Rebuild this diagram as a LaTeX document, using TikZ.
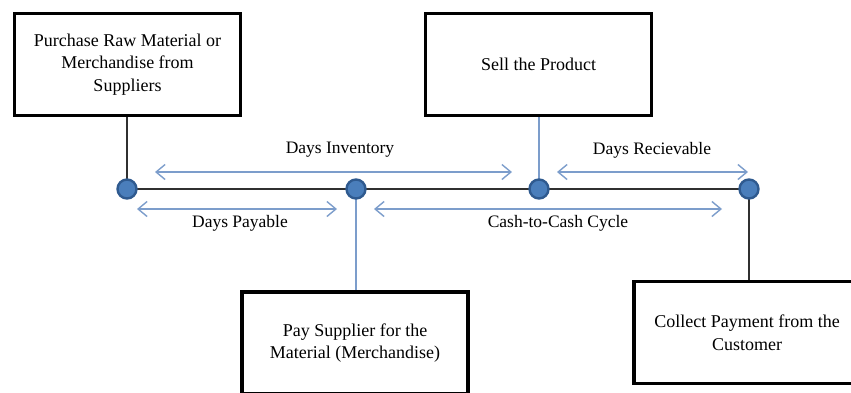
\documentclass[tikz,border=0pt]{standalone}
\usepackage{fontspec}
\setmainfont{Liberation Serif}
\usetikzlibrary{arrows.meta}
\definecolor{dotfill}{HTML}{4A7EBB}
\definecolor{dotline}{HTML}{2F5A8F}
\definecolor{arrowblue}{HTML}{7C9DCB}
\definecolor{darkline}{HTML}{303030}
\tikzset{
  stagebox/.style={draw=black, line width=3.6pt, fill=white, minimum width=226pt, minimum height=102pt, align=center, inner sep=2pt, font=\fontsize{18}{22.5}\selectfont},
  dot/.style={circle, fill=dotfill, draw=dotline, line width=2.4pt, minimum size=19pt, inner sep=0pt},
  spanarrow/.style={draw=arrowblue, line width=1.4pt, {Straight Barb[length=9pt,width=15pt]}-{Straight Barb[length=9pt,width=15pt]}},
  spanlabel/.style={font=\fontsize{17.5}{22}\selectfont, inner sep=0pt},
  darkstem/.style={draw=darkline, line width=1.6pt},
  bluestem/.style={draw=arrowblue, line width=1.6pt},
}
\begin{document}
\begin{tikzpicture}[x=1pt,y=-1pt]
\useasboundingbox (0,0) rectangle (851,392);
\clip (0,0) rectangle (851,392);
% boxes
\node[stagebox] (buy) at (127.5,64.5) {Purchase Raw Material or\\Merchandise from\\Suppliers};
\node[stagebox] (sell) at (538.5,64.5) {Sell the Product};
\node[stagebox] (pay) at (355,343) {Pay Supplier for the\\Material (Merchandise)};
\node[stagebox] (collect) at (747,332.5) {Collect Payment from the\\Customer};
% timeline points
\coordinate (p1) at (127,189);
\coordinate (p2) at (356,189);
\coordinate (p3) at (539,189);
\coordinate (p4) at (749,189);
\draw[darkline, line width=2pt] (p1) -- (p4);
\draw[darkstem] (p1) -- (p1 |- buy.south);
\draw[bluestem] (p3) -- (p3 |- sell.south);
\draw[bluestem] (p2) -- (p2 |- pay.north);
\draw[darkstem] (p4) -- (p4 |- collect.north);
\node[dot] (d1) at (p1) {};
\node[dot] (d2) at (p2) {};
\node[dot] (d3) at (p3) {};
\node[dot] (d4) at (p4) {};
% span arrows
\coordinate (inva) at (155,172);
\coordinate (invb) at (512,172);
\coordinate (reca) at (557,172);
\coordinate (recb) at (748,172);
\coordinate (paya) at (137,209);
\coordinate (payb) at (337,209);
\coordinate (ccca) at (374,209);
\coordinate (cccb) at (722,209);
\draw[spanarrow] (inva) -- (invb);
\draw[spanarrow] (reca) -- (recb);
\draw[spanarrow] (paya) -- (payb);
\draw[spanarrow] (ccca) -- (cccb);
\node[spanlabel] (invl) at (340,150) {Days Inventory};
\node[spanlabel] (recl) at (652,150) {Days Recievable};
\node[spanlabel] (payl) at (240,223) {Days Payable};
\node[spanlabel] (cccl) at (558,223) {Cash-to-Cash Cycle};
\end{tikzpicture}
\end{document}
